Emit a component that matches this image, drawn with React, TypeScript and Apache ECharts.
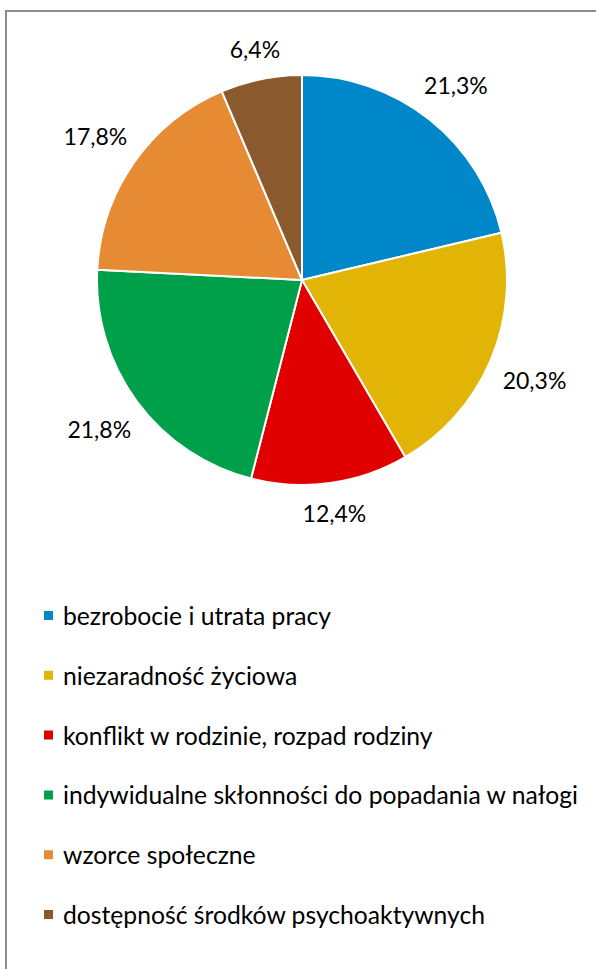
import React, { useEffect, useRef } from "react";
import * as echarts from "echarts";

const categories = [
  "bezrobocie i utrata pracy",
  "niezaradność życiowa",
  "konflikt w rodzinie, rozpad rodziny",
  "indywidualne skłonności do popadania w nałogi",
  "wzorce społeczne",
  "dostępność środków psychoaktywnych",
];
const values = [21.3, 20.3, 12.4, 21.8, 17.8, 6.4];
const colors = ["#0087c9", "#e2b406", "#e00000", "#00a04a", "#e68a33", "#8a5a2e"];

const CX = 302;
const CY = 280;
const R = 205;
const GAP = 14;
const FONT = "Lato, 'Open Sans', sans-serif";

export default function App() {
  const ref = useRef<HTMLDivElement>(null);
  useEffect(() => {
    document.body.style.margin = "0";
    if (!ref.current) return;
    const chart = echarts.init(ref.current, null, { renderer: "svg" });
    const total = values.reduce((a, b) => a + b, 0);
    const mids: number[] = [];
    let cum = 0;
    values.forEach((v) => {
      mids.push(((cum + v / 2) / total) * Math.PI * 2);
      cum += v;
    });
    chart.setOption({
      animation: false,
      backgroundColor: "#ffffff",
      color: colors,
      graphic: [
        {
          type: "polyline",
          shape: { points: [[6, 969], [6, 11], [596, 11]] },
          style: { stroke: "#8c8c8c", lineWidth: 2, fill: "none" },
          silent: true,
        },
      ],
      legend: {
        orient: "vertical",
        left: 37,
        top: 598,
        icon: "rect",
        itemWidth: 11,
        itemHeight: 11,
        itemGap: 34.8,
        selectedMode: false,
        textStyle: {
          fontFamily: FONT,
          fontSize: 24.7,
          color: "#000",
          lineHeight: 24,
          padding: [0, 0, 0, 4],
        },
        data: categories,
      },
      series: [
        {
          type: "pie",
          center: [CX, CY],
          radius: R,
          startAngle: 90,
          clockwise: true,
          avoidLabelOverlap: false,
          itemStyle: { borderColor: "#ffffff", borderWidth: 2 },
          label: {
            show: true,
            position: "outside",
            fontFamily: FONT,
            fontSize: 23,
            color: "#000",
            formatter: (p: any) => p.value.toFixed(1).replace(".", ",") + "%",
          },
          labelLine: { show: false },
          labelLayout: (p: any) => {
            const th = mids[p.dataIndex];
            const s = Math.sin(th);
            const c = Math.cos(th);
            const hw = p.labelRect.width / 2;
            const hh = 12;
            const d = R + GAP + Math.abs(hw * s) + Math.abs(hh * c);
            return {
              x: CX + d * s,
              y: CY - d * c,
              align: "center",
              verticalAlign: "middle",
            };
          },
          emphasis: { disabled: true },
          data: categories.map((name, i) => ({ name, value: values[i] })),
        },
      ],
    });
    return () => chart.dispose();
  }, []);
  return <div ref={ref} style={{ width: 596, height: 969 }} />;
}
